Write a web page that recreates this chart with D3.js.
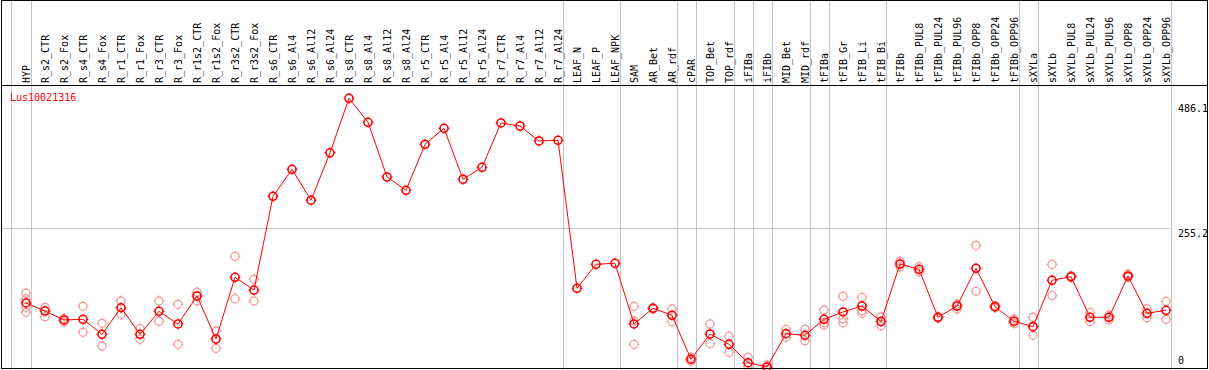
<!DOCTYPE html>
<html>
<head>
<meta charset="utf-8">
<script src="https://cdn.jsdelivr.net/npm/d3@7"></script>
<style>
  body { margin: 0; background: #fff; }
  svg { display: block; }
  text { font-family: "DejaVu Sans Mono", "Liberation Mono", monospace; font-size: 10px; }
</style>
</head>
<body>
<div id="chart"></div>
<script>
// gene shown in the plot
const geneId = "Lus10021316";

// sample names, left to right
const samples = [
  "HYP", "R_s2_CTR", "R_s2_Fox", "R_s4_CTR", "R_s4_Fox", "R_r1_CTR", "R_r1_Fox", "R_r3_CTR", "R_r3_Fox",
  "R_r1s2_CTR", "R_r1s2_Fox", "R_r3s2_CTR", "R_r3s2_Fox", "R_s6_CTR", "R_s6_Al4", "R_s6_Al12", "R_s6_Al24",
  "R_s8_CTR", "R_s8_Al4", "R_s8_Al12", "R_s8_Al24", "R_r5_CTR", "R_r5_Al4", "R_r5_Al12", "R_r5_Al24",
  "R_r7_CTR", "R_r7_Al4", "R_r7_Al12", "R_r7_Al24", "LEAF_N", "LEAF_P", "LEAF_NPK", "SAM", "AR_Bet", "AR_rdf",
  "cPAR", "TOP_Bet", "TOP_rdf", "iFIBa", "iFIBb", "MID_Bet", "MID_rdf", "tFIBa", "tFIB_Gr", "tFIB_Li", "tFIB_Bi",
  "tFIBb", "tFIBb_PUL8", "tFIBb_PUL24", "tFIBb_PUL96", "tFIBb_OPP8", "tFIBb_OPP24", "tFIBb_OPP96",
  "sXYLa", "sXYLb", "sXYLb_PUL8", "sXYLb_PUL24", "sXYLb_PUL96", "sXYLb_OPP8", "sXYLb_OPP24", "sXYLb_OPP96"
];

// mean expression per sample
const means = [
  122.6, 108.3, 92.4, 93.6, 67.0, 114.2, 67.0, 107.8, 85.3,
  135.0, 58.6, 168.2, 145.6, 312.1, 360.0, 305.1, 389.3,
  486.1, 443.5, 346.3, 322.7, 404.4, 432.8, 342.3, 363.6,
  442.3, 436.9, 410.3, 411.5, 148.7, 191.3, 193.1, 85.3, 113.1, 100.7,
  22.6, 67.5, 49.2, 16.5, 8.9, 68.0, 65.2, 93.6, 106.6, 117.2, 89.7,
  191.8, 182.4, 97.2, 117.2, 184.2, 116.0, 90.1,
  80.5, 162.9, 169.3, 97.2, 97.2, 170.5, 104.3, 109.6
];

// individual replicates per sample (same order as samples)
const replicates = [
  [140.3, 129.7, 114.9, 106.0], [114.9, 98.2], [95.0, 88.8], [116.7, 70.5], [86.5, 46.2],
  [126.1, 102.5], [76.9, 58.1], [126.1, 90.1], [120.2, 49.2],
  [141.6, 126.1], [72.8, 42.1], [205.5, 130.2], [164.6, 126.1], [], [], [], [],
  [], [], [], [], [], [], [], [],
  [], [], [], [], [], [], [], [116.7, 90.6, 49.2], [112.0, 114.0], [111.9, 89.3],
  [26.1, 19.0], [85.3, 50.3], [63.4, 35.0], [26.1, 9.4], [12.4, 5.3], [75.8, 61.6], [75.8, 55.6],
  [110.1, 87.6, 83.5], [134.5, 94.7, 87.6], [132.7, 108.9, 104.3], [97.7, 81.7],
  [187.0, 196.6], [187.0, 178.1], [98.2, 95.4], [120.8, 111.9], [225.0, 143.3], [114.0, 118.0], [94.1, 86.1],
  [97.2, 65.2], [191.3, 135.5], [168.0, 171.0], [105.3, 89.3], [101.2, 92.4], [174.1, 168.2], [111.9, 96.4], [125.6, 93.6]
];

// a grey divider follows each of these samples
const separatorsAfter = ["HYP", "R_r7_Al24", "LEAF_NPK", "AR_rdf", "cPAR", "TOP_rdf", "iFIBa", "iFIBb",
  "MID_rdf", "tFIBa", "tFIB_Bi", "tFIBb_OPP96", "sXYLa", "sXYLb_OPP96"];

// value axis labels on the right
const yTicks = [0, 255.2, 486.1];

const width = 1209, height = 370;
const headerH = 85;
const red = "#ff0000", pink = "#f29c9c", grey = "#c4c4c4";

const svg = d3.select("#chart").append("svg")
  .attr("width", width)
  .attr("height", height);

const x = d3.scalePoint().domain(samples).range([26, 1166]);
const y = d3.scaleLinear().domain([0, d3.max(means)]).range([372, 98.3]);
const plotRight = x(samples[samples.length - 1]) + 4.5;

// grey dividers, full height
const sepX = [x(samples[0]) - 15].concat(separatorsAfter.map(s => x(s) + 4.5));
svg.selectAll(".sep")
  .data(sepX)
  .enter()
  .append("line")
  .attr("x1", d => Math.round(d) + 0.5)
  .attr("x2", d => Math.round(d) + 0.5)
  .attr("y1", 0)
  .attr("y2", height)
  .attr("stroke", grey);

// horizontal grid (only inner ticks)
svg.selectAll(".grid")
  .data(yTicks.filter(t => t > 0 && t < d3.max(means)))
  .enter()
  .append("line")
  .attr("x1", 1)
  .attr("x2", plotRight)
  .attr("y1", d => Math.round(y(d)) + 0.5)
  .attr("y2", d => Math.round(y(d)) + 0.5)
  .attr("stroke", grey);

// sample labels, rotated
svg.selectAll(".lab")
  .data(samples)
  .enter()
  .append("text")
  .attr("transform", d => `translate(${x(d) + 4},83) rotate(-90)`)
  .attr("fill", "#000")
  .text(d => d);

// right value labels
svg.selectAll(".tick")
  .data(yTicks)
  .enter()
  .append("text")
  .attr("x", 1178)
  .attr("y", d => Math.min(Math.max(y(d) + 8.5, 112), 364))
  .attr("fill", "#000")
  .text(d => d);

// gene id
svg.append("text")
  .attr("x", 10)
  .attr("y", 101)
  .attr("fill", red)
  .text(geneId);

// marker: circle with small outward ticks
function marker(g, color, sw) {
  const r = 4;
  g.append("circle")
    .attr("r", r)
    .attr("fill", "none")
    .attr("stroke", color)
    .attr("stroke-width", sw);
  g.append("path")
    .attr("d", `M0,${-r - 1.5}V${-r}M0,${r}V${r + 1.5}M${-r - 1.5},0H${-r}M${r},0H${r + 1.5}`)
    .attr("stroke", color)
    .attr("stroke-width", 1);
}

const plot = svg.append("g");

// replicates
const repData = [];
samples.forEach((s, i) => replicates[i].forEach(v => repData.push({ s: s, v: v })));
plot.selectAll(".rep")
  .data(repData)
  .enter()
  .append("g")
  .attr("transform", d => `translate(${x(d.s)},${y(d.v)})`)
  .each(function() { marker(d3.select(this), pink, 1.3); });

// mean line
const line = d3.line()
  .x((d, i) => x(samples[i]))
  .y(d => y(d));
plot.append("path")
  .datum(means)
  .attr("d", line)
  .attr("fill", "none")
  .attr("stroke", red)
  .attr("stroke-width", 1);

plot.selectAll(".mean")
  .data(means)
  .enter()
  .append("g")
  .attr("transform", (d, i) => `translate(${x(samples[i])},${y(d)})`)
  .each(function() { marker(d3.select(this), red, 1.6); });

// black frame and header separator
svg.append("rect")
  .attr("x", 1.5)
  .attr("y", 0.5)
  .attr("width", 1206)
  .attr("height", 368)
  .attr("fill", "none")
  .attr("stroke", "#000");
svg.append("line")
  .attr("x1", 1)
  .attr("x2", 1208)
  .attr("y1", headerH + 0.5)
  .attr("y2", headerH + 0.5)
  .attr("stroke", "#000");
</script>
</body>
</html>
